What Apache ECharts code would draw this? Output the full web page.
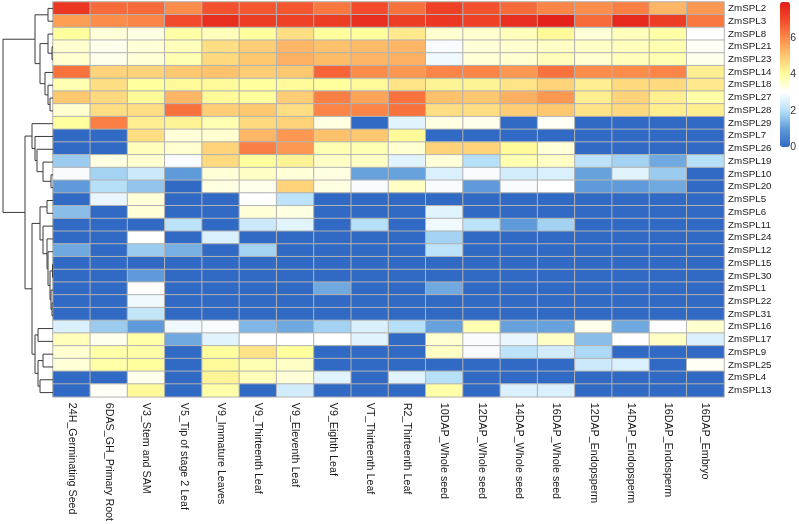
<!DOCTYPE html>
<html>
<head>
<meta charset="utf-8">
<script src="https://cdn.jsdelivr.net/npm/echarts@6/dist/echarts.min.js"></script>
<style>
html,body{margin:0;padding:0;background:#fff;}
#chart{width:799px;height:524px;}
</style>
</head>
<body>
<div id="chart"></div>
<script>
// ---- categories ----
var columns = ["24H_Germinating Seed","6DAS_GH_Primary Root","V3_Stem and SAM","V5_Tip of stage 2 Leaf",
  "V9_Immature Leaves","V9_Thirteenth Leaf","V9_Eleventh Leaf","V9_Eighth Leaf","VT_Thirteenth Leaf",
  "R2_Thirteenth Leaf","10DAP_Whole seed","12DAP_Whole seed","14DAP_Whole seed","16DAP_Whole seed",
  "12DAP_Endopsperm","14DAP_Endopsperm","16DAP_Endosperm","16DAP_Embryo"];
var genes = ["ZmSPL2","ZmSPL3","ZmSPL8","ZmSPL21","ZmSPL23","ZmSPL14","ZmSPL18","ZmSPL27","ZmSPL28",
  "ZmSPL29","ZmSPL7","ZmSPL26","ZmSPL19","ZmSPL10","ZmSPL20","ZmSPL5","ZmSPL6","ZmSPL11","ZmSPL24",
  "ZmSPL12","ZmSPL15","ZmSPL30","ZmSPL1","ZmSPL22","ZmSPL31","ZmSPL16","ZmSPL17","ZmSPL9","ZmSPL25",
  "ZmSPL4","ZmSPL13"];
// ---- expression values (one row per gene, one value per column) ----
var expression = [
  [7.4,6.5,6.5,6.0,6.9,6.8,6.8,6.3,7.0,6.4,7.2,6.9,6.5,6.1,6.0,6.2,5.3,5.8],
  [5.7,6.0,6.1,7.0,7.6,7.3,7.2,7.3,7.6,7.3,7.4,7.2,7.6,7.9,6.5,7.7,7.3,6.3],
  [4.0,3.4,3.3,3.9,3.7,4.0,4.6,4.0,4.0,4.4,3.5,3.5,3.7,4.1,3.4,3.7,3.9,3.0],
  [3.5,3.2,3.4,3.7,4.6,4.9,5.3,5.1,5.2,5.3,2.9,3.4,3.5,3.6,3.6,3.7,3.8,3.1],
  [3.5,3.2,3.4,3.8,4.7,5.0,5.4,5.2,5.3,5.4,2.8,3.4,3.5,3.7,3.5,3.7,3.8,3.2],
  [6.4,4.8,4.8,5.0,5.1,4.9,5.0,6.6,6.0,5.8,6.1,6.1,5.8,6.4,6.0,6.0,6.1,4.3],
  [3.8,4.6,4.0,4.1,4.1,4.0,4.1,4.0,4.1,4.5,4.2,4.2,4.5,4.8,4.3,4.7,4.7,4.4],
  [5.0,4.7,4.1,5.3,4.1,4.0,4.9,6.2,5.6,6.4,5.1,5.0,5.4,5.8,4.3,4.8,4.3,3.9],
  [3.5,4.6,4.6,6.4,4.9,5.0,4.6,6.1,6.1,6.4,4.6,4.6,4.9,5.0,4.5,4.7,4.3,4.3],
  [4.0,6.2,4.3,4.2,3.8,4.7,4.8,3.3,0,2.6,3.3,3.2,0,3.1,0,0,0,0],
  [0,0,4.6,3.4,3.5,5.3,5.8,5.1,5.0,4.1,0,0,0,0,0,0,0,0],
  [0,0,3.7,3.5,4.8,6.2,5.8,3.8,3.8,3.5,4.8,4.8,4.1,3.4,0,0,0,0],
  [1.7,3.3,3.5,2.9,4.7,4.0,4.2,3.6,3.6,2.6,3.4,2.0,3.8,3.6,2.1,1.8,1.2,2.0],
  [2.9,1.8,2.3,1.0,3.4,3.6,3.4,3.3,1.1,1.1,2.5,2.9,2.4,2.5,1.1,2.6,1.7,0],
  [1.0,2.0,1.6,0,3.3,3.2,4.8,3.3,2.9,3.6,2.9,1.0,2.9,3.0,1.0,1.0,1.2,0],
  [0,2.7,3.4,0,0,3.0,2.1,0,0,0,0,0,0,0,0,0,0,0],
  [1.5,0,3.4,0,0,3.4,3.3,0,0,0,2.6,0,0,0,0,0,0,0],
  [0,0,0,2.1,0,2.3,2.6,0,2.0,0,2.8,2.1,1.0,1.8,0,0,0,0],
  [0,0,3.0,0,2.5,0,0,0,0,0,1.8,0,0,0,0,0,0,0],
  [1.2,0,1.7,1.3,0,1.8,0,0,0,0,2.1,0,0,0,0,0,0,0],
  [0,0,0,0,0,0,0,0,0,0,0,0,0,0,0,0,0,0],
  [0,0,1.0,0,0,0,0,0,0,0,0,0,0,0,0,0,0,0],
  [0,0,3.0,0,0,0,0,1.2,0,0,1.2,0,0,0,0,0,0,0],
  [0,0,2.8,0,0,0,0,0,0,0,0,0,0,0,0,0,0,0],
  [0,0,2.2,0,0,0,0,0,0,0,0,0,0,0,0,0,0,0],
  [2.5,1.7,1.0,2.8,2.9,1.4,1.2,1.8,2.5,2.0,1.1,3.8,1.1,1.1,3.2,1.2,3.0,3.5],
  [3.7,3.2,3.9,1.2,2.6,3.0,3.0,3.0,2.6,0,3.5,2.9,2.7,3.6,1.5,3.0,3.6,2.5],
  [3.5,3.9,3.9,0,4.0,4.5,4.0,0,0,0,3.6,2.9,2.1,2.4,1.9,0,0,0],
  [3.4,3.9,4.0,0,4.1,3.8,3.6,0,0,0,0,0,0,0,2.3,2.5,0,3.1],
  [0,0,3.2,0,4.2,3.7,3.4,2.6,0,2.6,2.0,0,0,0,0,0,0,0],
  [0,3.1,4.1,0,3.9,0,2.4,0,0,0,3.9,0,2.5,2.5,0,0,0,0]
];
// ---- colour legend ----
var legendTicks = [0, 2, 4, 6];
var legendMin = 0, legendMax = 8;
var palette = ['#316AC4','#5F9BDA','#B5E0F8','#FFFFFF','#FFFF9E','#FEC870','#FC8C4A','#F24A2A','#E21D18'];
// ---- row dendrogram (hclust-style merges: negative = leaf row -(i+1), positive = earlier merge #) ----
var mergeLeft   = [-1,-4,-3,-8,-7,-6, 3, 1,-14,-13,-12,-11,-10,-16,-24,-23,-21,17,-20,-19,-18,14,-26,-28,-30,24,23,22,13, 8];
var mergeRight  = [-2,-5, 2,-9, 4, 5, 6, 7,-15,  9, 10, 11, 12,-17,-25, 15,-22,16, 18, 19, 20,21,-27,-29,-31,25,26,27,28,29];
var mergeHeight = [ 5, 1, 5, 3, 5, 8,13,18,  2, 10, 16, 18, 21,  6,  1,  2,0.5, 3,  5,  6, 10,13, 15, 10, 13,15,18,21,28,50];

// ---- build ----
var heatData = [];
for (var r = 0; r < genes.length; r++) {
  for (var c = 0; c < columns.length; c++) heatData.push([c, r, expression[r][c]]);
}
var nodes = [];
var dendroLines = [];
function pos(ref) {
  if (ref < 0) return { y: -ref - 1 + 0.5, h: 0 };
  return nodes[ref - 1];
}
for (var m = 0; m < mergeHeight.length; m++) {
  var a = pos(mergeLeft[m]), b = pos(mergeRight[m]), h = mergeHeight[m];
  nodes.push({ y: (a.y + b.y) / 2, h: h });
  dendroLines.push({ coords: [[a.h, a.y], [h, a.y], [h, b.y], [b.h, b.y]] });
}

var FONT = "'Liberation Sans', Arial, Helvetica, sans-serif";
var chart = echarts.init(document.getElementById('chart'), null, { renderer: 'canvas' });
chart.setOption({
  animation: false,
  backgroundColor: '#ffffff',
  textStyle: { fontFamily: FONT },
  grid: [
    { left: 53, top: 2, width: 671, height: 397, containLabel: false },
    { left: 780, top: 2, width: 10, height: 145, containLabel: false },
    { left: 0, top: 2, width: 53, height: 397, containLabel: false }
  ],
  xAxis: [
    { type: 'category', gridIndex: 0, data: columns, position: 'bottom',
      axisLine: { show: false }, axisTick: { show: false }, splitLine: { show: false },
      axisLabel: { rotate: -90, interval: 0, margin: 6, fontSize: 10.7, color: '#1a1a1a', fontFamily: FONT } },
    { type: 'value', gridIndex: 1, show: false, min: 0, max: 1 },
    { type: 'value', gridIndex: 2, show: false, min: 0, max: 53, inverse: true }
  ],
  yAxis: [
    { type: 'category', gridIndex: 0, data: genes, inverse: true, position: 'right',
      axisLine: { show: false }, axisTick: { show: false }, splitLine: { show: false },
      axisLabel: { interval: 0, margin: 4, fontSize: 9.8, color: '#1a1a1a', fontFamily: FONT } },
    { type: 'value', gridIndex: 1, position: 'right', min: legendMin, max: legendMax, interval: 2,
      axisLine: { show: false }, axisTick: { show: false }, splitLine: { show: false },
      axisLabel: { margin: 5, fontSize: 10.5, color: '#333',
        formatter: function (v) { return legendTicks.indexOf(v) >= 0 ? String(v) : ''; } } },
    { type: 'value', gridIndex: 2, show: false, min: 0, max: 31, inverse: true }
  ],
  visualMap: {
    type: 'continuous', seriesIndex: 0, min: legendMin, max: legendMax,
    calculable: false, hoverLink: false, orient: 'vertical',
    left: 780, top: 2, itemWidth: 10, itemHeight: 145, padding: 0,
    text: null, showLabel: false,
    inRange: { color: palette }
  },
  series: [
    { type: 'heatmap', xAxisIndex: 0, yAxisIndex: 0, data: heatData,
      itemStyle: { borderColor: '#b2b2b2', borderWidth: 1 },
      emphasis: { disabled: true }, silent: true, label: { show: false } },
    { type: 'lines', coordinateSystem: 'cartesian2d', xAxisIndex: 2, yAxisIndex: 2,
      polyline: true, silent: true, data: dendroLines,
      lineStyle: { color: '#3a3a3a', width: 1, opacity: 1 } }
  ]
});
</script>
</body>
</html>
